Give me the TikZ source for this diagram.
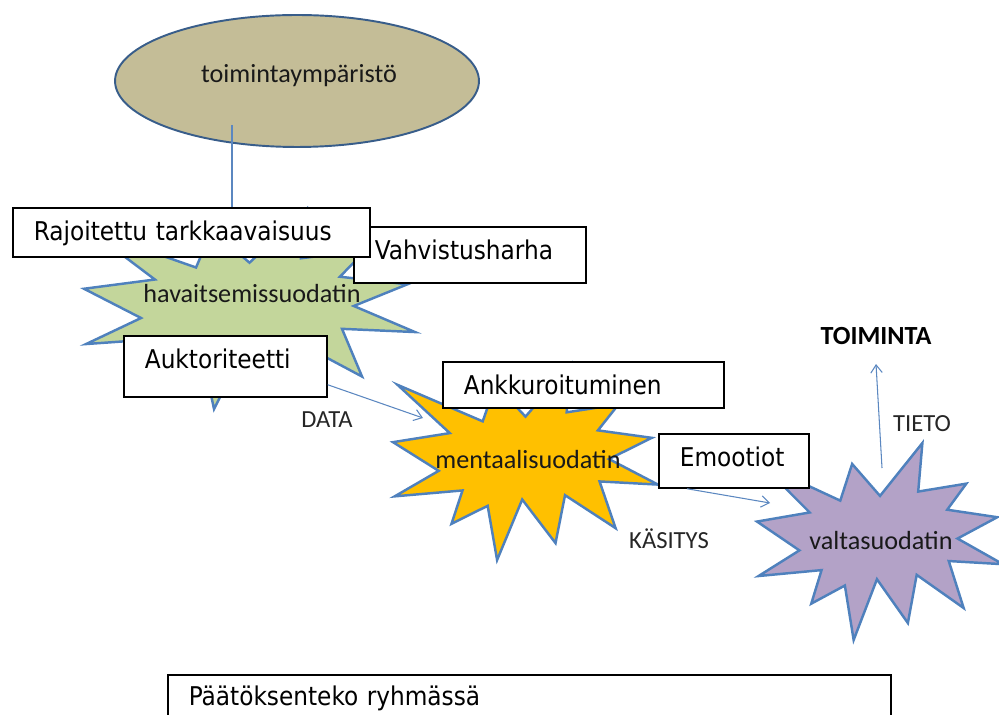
\documentclass[tikz,border=0pt]{standalone}
\usepackage{fontspec}
\setmainfont{Carlito}
\newfontfamily\boxfont{DejaVu Sans Condensed}
\usetikzlibrary{arrows.meta,positioning,calc,shapes.geometric}
\definecolor{tanfill}{HTML}{C4BD97}
\definecolor{tanline}{HTML}{385D8A}
\definecolor{sealline}{HTML}{4F81BD}
\definecolor{greenfill}{HTML}{C3D69B}
\definecolor{orangefill}{HTML}{FFC000}
\definecolor{purplefill}{HTML}{B3A2C7}
\definecolor{connblue}{HTML}{5B87C0}
% explosion outline in a unit box (y points down)
\newcommand{\sealoutline}{(0.5,0.2685) -- (0.6723,0) -- (0.6553,0.2465) -- (0.8509,0.2063) -- (0.7732,0.3387) -- (0.9767,0.3767) -- (0.8151,0.4850) -- (1,0.6153) -- (0.7795,0.5992) -- (0.8400,0.8377) -- (0.6491,0.6693) -- (0.6133,0.9138) -- (0.4876,0.6914) -- (0.3928,1) -- (0.3572,0.7235) -- (0.2205,0.8156) -- (0.2624,0.6452) -- (0.0063,0.6753) -- (0.1723,0.5451) -- (0,0.3988) -- (0.2142,0.3526) -- (0.0171,0.1063) -- (0.3385,0.2926) -- (0.3867,0.1063) -- cycle}

\begin{document}
\begin{tikzpicture}[x=0.02cm,y=-0.02cm,>={Straight Barb[length=4.5pt,width=6.5pt]},
  seal/.style={draw=sealline,line width=1.4pt,line join=miter},
  lbl/.style={font=\fontsize{14.9}{17}\selectfont,text=black!90,inner sep=0pt},
  flow/.style={font=\fontsize{14}{16}\selectfont,text=black!85,inner sep=0pt},
  conn/.style={draw=connblue,line width=0.6pt},
  biasbox/.style={draw,line width=1pt,fill=white,anchor=north west,inner xsep=0.42cm,inner ysep=0pt,
    align=left,font=\boxfont\fontsize{14.7}{17}\selectfont,text height=0.66cm}]
\useasboundingbox (0,0) rectangle (999,715);
\clip (0,0) rectangle (999,715);

% toimintaympäristö
\node[ellipse,draw=tanline,fill=tanfill,line width=1.1pt,minimum width=7.28cm,minimum height=2.64cm,inner sep=0pt] (env) at (297,81) {};
\node[lbl,anchor=base] (envtxt) at (299,83) {toimintaympäristö};

% suodattimet
\draw[seal,fill=greenfill,shift={(84,209)},xscale=331,yscale=200] \sealoutline;
\draw[seal,fill=orangefill,shift={(393,364)},xscale=265,yscale=196] \sealoutline;
\draw[seal,fill=purplefill,shift={(757,443)},xscale=246,yscale=197] \sealoutline;
\node[lbl,anchor=base] (hav) at (252,303) {havaitsemissuodatin};
\node[lbl,anchor=base] (ment) at (528,468) {mentaalisuodatin};
\node[lbl,anchor=base] (valta) at (881,549) {valtasuodatin};

% vinoumat
\node[biasbox,text width=3.8cm,text depth=0.46cm] (vahv) at (353,226) {Vahvistusharha};
\node[biasbox,text width=6.3cm,text depth=0.32cm] (raj) at (12,207) {Rajoitettu tarkkaavaisuus};
\node[biasbox,text width=3.22cm,text depth=0.56cm] (auk) at (123,335) {Auktoriteetti};
\node[biasbox,text width=4.78cm,text depth=0.26cm] (ank) at (442,361) {Ankkuroituminen};
\node[biasbox,text width=2.16cm,text depth=0.42cm] (emo) at (658,433) {Emootiot};
\node[biasbox,text width=13.62cm,text height=0.62cm,text depth=1.2cm] (pat) at (167,674) {Päätöksenteko ryhmässä};

% virtaus
\coordinate (envfoot) at (232,125);
\coordinate (ment-in) at (423,418);
\coordinate (valta-in) at (770,503);
\coordinate (valta-out) at (882,468);
\node[flow,font=\bfseries\fontsize{14.9}{17}\selectfont,text=black] (toim) at (876,336) {TOIMINTA};
\draw[conn] (envfoot) -- (envfoot |- raj.north);
\draw[conn,->] ([yshift=0.26cm]auk.south east) -- (ment-in);
\draw[conn,->] ([xshift=0.58cm]emo.south west) -- (valta-in);
\draw[conn,->] (valta-out) -- ([yshift=-0.38cm]toim.south);
\node[flow,anchor=base] (data) at (327,427) {DATA};
\node[flow,anchor=base] (kas) at (669,548) {KÄSITYS};
\node[flow,anchor=base] (tieto) at (922,432) {TIETO};
\end{tikzpicture}
\end{document}
